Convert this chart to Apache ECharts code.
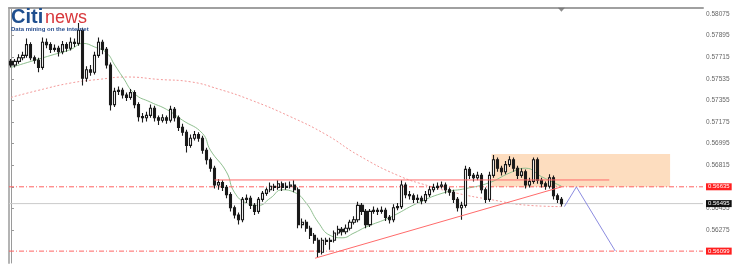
<!DOCTYPE html>
<html><head><meta charset="utf-8">
<script src="https://cdn.jsdelivr.net/npm/echarts@6/dist/echarts.min.js"></script>
<style>html,body{margin:0;padding:0;background:#fff}#c{width:743px;height:270px}</style>
</head><body><div id="c"></div>
<script>
const opens = [0.5768,0.5765,0.5768,0.5771,0.5773,0.5782,0.5771,0.5769,0.5763,0.5784,
0.5782,0.5778,0.5779,0.5776,0.5782,0.5779,0.5784,0.5783,0.5794,0.5754,
0.5761,0.5759,0.5773,0.5784,0.5778,0.5765,0.5732,0.5743,0.5744,0.5740,
0.5738,0.5742,0.5732,0.5722,0.5721,0.5723,0.5729,0.5721,0.5719,0.5721,
0.5719,0.5728,0.5721,0.5713,0.5709,0.5698,0.5704,0.5707,0.5704,0.5694,
0.5686,0.5679,0.5665,0.5667,0.5663,0.5657,0.5646,0.5640,0.5636,0.5653,
0.5654,0.5648,0.5643,0.5653,0.5658,0.5661,0.5664,0.5663,0.5666,0.5663,
0.5664,0.5665,0.5661,0.5632,0.5634,0.5629,0.5623,0.5619,0.5609,0.5619,
0.5618,0.5619,0.5625,0.5628,0.5626,0.5629,0.5634,0.5636,0.5648,0.5643,
0.5632,0.5643,0.5644,0.5643,0.5644,0.5638,0.5636,0.5646,0.5647,0.5665,
0.5657,0.5656,0.5653,0.5654,0.5652,0.5657,0.5661,0.5663,0.5664,0.5665,
0.5661,0.5659,0.5653,0.5646,0.5648,0.5678,0.5673,0.5671,0.5673,0.5661,
0.5653,0.5673,0.5686,0.5679,0.5676,0.5682,0.5686,0.5679,0.5673,0.5676,
0.5665,0.5668,0.5686,0.5669,0.5666,0.5664,0.5671,0.5656,0.5653];
const closes = [0.5765,0.5768,0.5771,0.5773,0.5782,0.5771,0.5769,0.5763,0.5784,0.5782,
0.5778,0.5779,0.5776,0.5782,0.5779,0.5784,0.5783,0.5794,0.5754,0.5761,
0.5759,0.5773,0.5784,0.5778,0.5765,0.5732,0.5743,0.5744,0.5740,0.5738,
0.5742,0.5732,0.5722,0.5721,0.5723,0.5729,0.5721,0.5719,0.5721,0.5719,
0.5728,0.5721,0.5713,0.5709,0.5698,0.5704,0.5707,0.5704,0.5694,0.5686,
0.5679,0.5665,0.5667,0.5663,0.5657,0.5646,0.5640,0.5636,0.5653,0.5654,
0.5648,0.5643,0.5653,0.5658,0.5661,0.5664,0.5663,0.5666,0.5663,0.5664,
0.5665,0.5661,0.5632,0.5634,0.5629,0.5623,0.5619,0.5609,0.5619,0.5618,
0.5619,0.5625,0.5628,0.5626,0.5629,0.5634,0.5636,0.5648,0.5643,0.5632,
0.5643,0.5644,0.5643,0.5644,0.5638,0.5636,0.5646,0.5647,0.5665,0.5657,
0.5656,0.5653,0.5654,0.5652,0.5657,0.5661,0.5663,0.5664,0.5665,0.5661,
0.5659,0.5653,0.5646,0.5648,0.5678,0.5673,0.5671,0.5673,0.5661,0.5653,
0.5673,0.5686,0.5679,0.5676,0.5682,0.5686,0.5679,0.5673,0.5676,0.5665,
0.5668,0.5686,0.5669,0.5666,0.5664,0.5671,0.5656,0.5653,0.56495];
const highs = [0.5770,0.5770,0.5774,0.5776,0.5787,0.5784,0.5773,0.5771,0.5788,0.5787,
0.5784,0.5782,0.5781,0.5785,0.5784,0.5788,0.5787,0.5800,0.5796,0.5764,
0.5765,0.5776,0.5788,0.5786,0.5780,0.5767,0.5746,0.5747,0.5746,0.5742,
0.5745,0.5744,0.5734,0.5725,0.5726,0.5732,0.5731,0.5723,0.5724,0.5723,
0.5731,0.5730,0.5723,0.5716,0.5711,0.5707,0.5710,0.5709,0.5706,0.5696,
0.5688,0.5681,0.5670,0.5669,0.5665,0.5659,0.5648,0.5642,0.5655,0.5657,
0.5656,0.5650,0.5655,0.5660,0.5663,0.5667,0.5666,0.5669,0.5668,0.5667,
0.5668,0.5669,0.5663,0.5637,0.5636,0.5631,0.5625,0.5621,0.5621,0.5621,
0.5621,0.5627,0.5631,0.5630,0.5632,0.5636,0.5639,0.5651,0.5650,0.5645,
0.5645,0.5647,0.5646,0.5647,0.5646,0.5640,0.5649,0.5650,0.5669,0.5667,
0.5660,0.5658,0.5657,0.5656,0.5660,0.5664,0.5666,0.5667,0.5668,0.5667,
0.5663,0.5661,0.5655,0.5651,0.5681,0.5680,0.5675,0.5676,0.5675,0.5663,
0.5676,0.5690,0.5688,0.5681,0.5685,0.5689,0.5688,0.5681,0.5679,0.5678,
0.5671,0.5688,0.5688,0.5671,0.5668,0.5674,0.5673,0.5658,0.5655];
const lows = [0.5763,0.5763,0.5766,0.5769,0.5771,0.5769,0.5766,0.5759,0.5761,0.5779,
0.5775,0.5776,0.5772,0.5774,0.5776,0.5777,0.5780,0.5781,0.5748,0.5751,
0.5756,0.5757,0.5771,0.5774,0.5762,0.5727,0.5730,0.5740,0.5737,0.5735,
0.5736,0.5729,0.5718,0.5717,0.5718,0.5721,0.5718,0.5715,0.5717,0.5716,
0.5717,0.5718,0.5710,0.5706,0.5692,0.5696,0.5702,0.5701,0.5691,0.5682,
0.5676,0.5662,0.5661,0.5660,0.5654,0.5643,0.5637,0.5632,0.5634,0.5650,
0.5645,0.5640,0.5641,0.5651,0.5656,0.5659,0.5660,0.5661,0.5660,0.5661,
0.5662,0.5659,0.5629,0.5629,0.5626,0.5620,0.5616,0.5605,0.5607,0.5615,
0.5611,0.5617,0.5623,0.5623,0.5624,0.5627,0.5632,0.5634,0.5640,0.5629,
0.5630,0.5641,0.5640,0.5641,0.5635,0.5633,0.5634,0.5644,0.5645,0.5654,
0.5653,0.5650,0.5650,0.5649,0.5650,0.5655,0.5659,0.5661,0.5662,0.5658,
0.5656,0.5650,0.5643,0.5636,0.5646,0.5670,0.5668,0.5669,0.5658,0.5650,
0.5651,0.5671,0.5676,0.5673,0.5674,0.5680,0.5676,0.5670,0.5671,0.5662,
0.5663,0.5666,0.5666,0.5663,0.5661,0.5662,0.5653,0.5650,0.5647];

// moving averages: [bar index, price]
const maFast = [[0,0.5763],[5,0.5768],[10,0.5773],[15,0.5778],[18,0.5783],[21,0.5780],[24,0.5775],[26,0.5765],[28,0.5755],[31,0.5741],[35,0.5734],[39,0.5728],[43,0.5719],[48,0.5708],[50,0.5694],[54,0.5676],[56,0.5659],[59,0.5650],[62,0.5648],[65,0.5654],[68,0.5661],[71,0.5659],[74,0.5650],[77,0.5634],[80,0.5623],[83,0.5621],[86,0.5625],[89,0.5630],[95,0.5638],[102,0.5650],[109,0.5659],[114,0.5662],[120,0.5667],[125,0.5675],[129,0.5679],[133,0.5672],[138,0.5664]];
const maSlow = [[0,0.5738],[7,0.5744],[15,0.5750],[22,0.5753],[29,0.5755],[37,0.5753],[45,0.5751],[52,0.5745],[60,0.5736],[70,0.5722],[79,0.5707],[87,0.5690],[97,0.5673],[105,0.5664],[112,0.5658],[120,0.5653],[130,0.5648],[138,0.5647]];

const axisTicks = [0.58075,0.57895,0.57715,0.57535,0.57355,0.57175,0.56995,0.56815,0.56635,0.56455,0.56275];
const redLevels = [0.56635, 0.56099];
const bidPrice = 0.56495;
const resistance = [[51,0.56692],[150,0.56692]];
const trendLine = [[76.25,0.5604],[138,0.56634]];
const projection = [[138.75,0.5647],[141.75,0.56634],[151.5,0.5610]];
const zoneBox = [[120.5,0.56908],[165.25,0.56635]];
const timeMarker = [[138,0.5811]];

const totalSlots = 174;
const categories = Array.from({length: totalSlots}, (_, i) => String(i));
const candleData = closes.map((c, i) => [opens[i], c, lows[i], highs[i]]);

const chart = echarts.init(document.getElementById('c'), null, {renderer: 'canvas'});
const yMin = 0.5600, yMax = 0.58125;
const xLo = -0.5, xHi = totalSlots - 0.5;

function levelSeries(v, color, dash, tagBg) {
  return {type: 'line', xAxisIndex: 1, data: [[xLo, v], [xHi, v]], symbol: 'none', z: 2, silent: true,
    lineStyle: {color: color, width: 1, type: dash},
    endLabel: {show: true, distance: 3, color: '#fff', backgroundColor: tagBg, fontSize: 6, lineHeight: 6,
      fontFamily: 'Arial', padding: [1, 2, 0, 2], formatter: () => v.toFixed(5)}};
}

chart.setOption({
  animation: false,
  backgroundColor: '#fff',
  grid: {left: 9, right: 40, top: 8, bottom: 7},
  xAxis: [
    {type: 'category', data: categories, position: 'top', boundaryGap: true,
     axisLine: {show: true, lineStyle: {color: '#a0a0a0', width: 2}}, axisTick: {show: false}, axisLabel: {show: false}, splitLine: {show: false}},
    {type: 'value', min: xLo, max: xHi, show: false}
  ],
  yAxis: [
    {type: 'value', position: 'right', min: yMin, max: yMax, scale: true,
     axisLine: {show: true, lineStyle: {color: '#9a9a9a', width: 1}},
     axisTick: {show: true, length: 3, lineStyle: {color: '#9a9a9a'}, customValues: axisTicks},
     axisLabel: {show: true, fontSize: 6.5, color: '#666', fontFamily: 'Arial', margin: 3, customValues: axisTicks, formatter: v => v.toFixed(5)},
     splitLine: {show: false}},
    {type: 'value', position: 'left', min: yMin, max: yMax,
     axisLine: {show: true, lineStyle: {color: '#b4b4b4', width: 2}}, axisTick: {show: false}, axisLabel: {show: false}, splitLine: {show: false}}
  ],
  graphic: [
    {type: 'text', left: 11, top: 7, z: 100, style: {text: 'Citi', fill: '#1f4f8f', font: 'bold 20px "Liberation Sans", Arial'}},
    {type: 'text', left: 45, top: 9, z: 100, style: {text: 'news', fill: '#d8383c', font: '18px "Liberation Sans", Arial'}},
    {type: 'text', left: 11, top: 26, z: 100, style: {text: 'Data mining on the internet', fill: '#2a4f8f', font: 'bold 6px "Liberation Sans", Arial'}}
  ],
  series: [
    {type: 'line', xAxisIndex: 1, data: [], symbol: 'none', z: 1,
     markArea: {silent: true, itemStyle: {color: 'rgba(252,210,170,0.75)'},
       data: [[{coord: zoneBox[0]}, {coord: zoneBox[1]}]]}},
    {type: 'line', xAxisIndex: 1, data: maSlow, smooth: 0.5, symbol: 'none', z: 2,
     lineStyle: {color: '#f49a9a', width: 1, type: [2, 2]}},
    {type: 'line', xAxisIndex: 1, data: maFast, smooth: 0.5, symbol: 'none', z: 2,
     lineStyle: {color: '#8fbf8f', width: 1}},
    levelSeries(bidPrice, '#cacaca', 'solid', '#111111'),
    levelSeries(redLevels[0], '#ff6262', [5, 2, 1, 2], '#ff2020'),
    levelSeries(redLevels[1], '#ff6262', [5, 2, 1, 2], '#ff2020'),
    {type: 'candlestick', xAxisIndex: 0, data: candleData, barWidth: 2.6, z: 3,
     itemStyle: {color: '#ffffff', color0: '#1a1a1a', borderColor: '#1a1a1a', borderColor0: '#1a1a1a', borderWidth: 1.1}},
    {type: 'line', xAxisIndex: 1, data: resistance, symbol: 'none', z: 4, lineStyle: {color: '#ff6b6b', width: 1}},
    {type: 'line', xAxisIndex: 1, data: trendLine, symbol: 'none', z: 4, lineStyle: {color: '#ff6b6b', width: 1}},
    {type: 'line', xAxisIndex: 1, data: projection, symbol: 'none', z: 4, lineStyle: {color: '#8c8ce0', width: 1}},
    {type: 'scatter', xAxisIndex: 1, data: timeMarker, symbol: 'triangle', symbolRotate: 180, symbolSize: [7, 4], z: 5,
     itemStyle: {color: '#707070'}}
  ]
});
</script></body></html>
